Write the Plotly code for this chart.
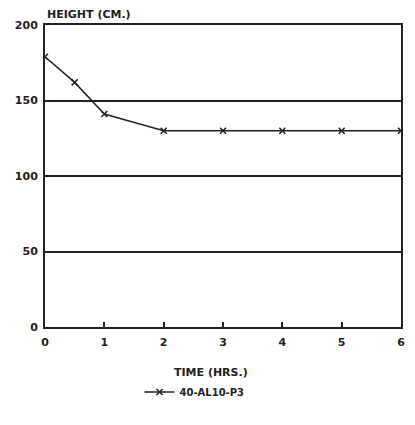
import plotly.graph_objects as go

time_hrs = [0, 0.5, 1, 2, 3, 4, 5, 6]
height_cm = [179, 162, 141, 130, 130, 130, 130, 130]
series_name = "40-AL10-P3"
x_ticks = [0, 1, 2, 3, 4, 5, 6]
y_ticks = [0, 50, 100, 150, 200]

FONT = dict(family="DejaVu Sans", size=11, color="#222", weight="bold")

fig = go.Figure()
fig.add_trace(go.Scatter(
    x=time_hrs, y=height_cm, name=series_name, mode="lines+markers",
    line=dict(color="#222", width=1.5),
    marker=dict(symbol="x-thin-open", size=6, color="#222", line=dict(width=1.5, color="#222")),
))

fig.update_layout(
    width=415, height=425,
    margin=dict(l=45, r=10, t=25, b=98),
    paper_bgcolor="white", plot_bgcolor="white",
    font=FONT,
    showlegend=True,
    legend=dict(orientation="h", x=0.42, xanchor="center", y=-0.215, yanchor="middle",
                font=dict(family="DejaVu Sans", size=10, color="#222", weight="bold"),
                bgcolor="rgba(0,0,0,0)"),
    xaxis=dict(range=[0, 6], tickvals=x_ticks, ticks="inside", ticklen=5, tickwidth=2,
               tickcolor="#222", showline=True, linecolor="#222", linewidth=2, mirror=True,
               showgrid=False, zeroline=False, tickfont=dict(size=11), ticklabelstandoff=4),
    yaxis=dict(range=[0, 200], tickvals=y_ticks, ticks="", showline=True, linecolor="#222",
               linewidth=2, mirror=True, showgrid=True, gridcolor="#222", gridwidth=1.5,
               zeroline=False, tickfont=dict(size=11), ticklabelstandoff=3),
    annotations=[
        dict(text="HEIGHT (CM.)", x=0, xref="paper", xanchor="left", y=1, yref="paper",
             yanchor="bottom", yshift=2, showarrow=False, font=FONT),
        dict(text="TIME (HRS.)", x=0.465, xref="paper", xanchor="center", y=-0.15, yref="paper",
             yanchor="middle", showarrow=False, font=FONT),
    ],
)

fig.write_html("out.html")
